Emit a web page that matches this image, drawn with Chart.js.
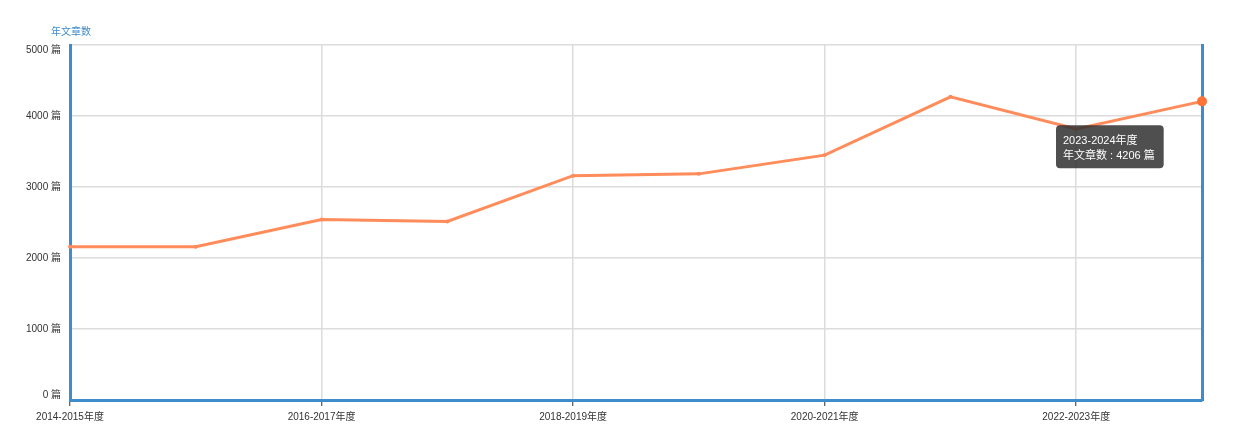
<!DOCTYPE html>
<html>
<head>
<meta charset="utf-8">
<script src="https://cdn.jsdelivr.net/npm/chart.js@4/dist/chart.umd.min.js"></script>
<style>
html,body{margin:0;padding:0;background:#fff;}
#wrap{width:1234px;height:444px;position:relative;}
</style>
</head>
<body>
<div id="wrap"><canvas id="c" width="1234" height="444"></canvas></div>
<script>
const categories = ['2014-2015年度','2015-2016年度','2016-2017年度','2017-2018年度','2018-2019年度','2019-2020年度','2020-2021年度','2021-2022年度','2022-2023年度','2023-2024年度'];
const articleCounts = [2160, 2160, 2542, 2514, 3160, 3185, 3449, 4270, 3816, 4206];
const seriesName = '年文章数';
const unit = '篇';

const FONT = '"Liberation Sans", Arial, "Noto Sans CJK SC", sans-serif';
const BLUE = '#3d8ccb';
const LINE = '#ff8c5a';
const lastIdx = articleCounts.length - 1;

Chart.Tooltip.positioners.fixedLeftBelow = function(elements) {
  if (!elements.length) return false;
  const el = elements[0].element;
  return {x: el.x - 142, y: el.y + 24};
};

const axisTitle = {
  id: 'axisTitle',
  afterDraw(chart) {
    const ctx = chart.ctx;
    ctx.save();
    ctx.font = '10px ' + FONT;
    ctx.fillStyle = BLUE;
    ctx.textAlign = 'left';
    ctx.textBaseline = 'middle';
    ctx.fillText(seriesName, 51, 32);
    ctx.restore();
  }
};

// keep the min / max y labels inside the plot (as in the reference)
const edgeLabels = {
  id: 'edgeLabels',
  beforeDraw(chart) {
    const s = chart.scales.y;
    if (!s || typeof s._computeLabelItems !== 'function') return;
    const items = s._computeLabelItems(chart.chartArea);
    if (!items || items.length < 2) return;
    const shift = (it, dy) => {
      if (it && it.options && Array.isArray(it.options.translation)) {
        it.options.translation = [it.options.translation[0], it.options.translation[1] + dy];
      }
    };
    shift(items[0], -5);
    shift(items[items.length - 1], 5);
    s._labelItems = items;
  }
};

const chart = new Chart(document.getElementById('c'), {
  type: 'line',
  data: {
    labels: categories,
    datasets: [{
      label: seriesName,
      data: articleCounts,
      borderColor: LINE,
      backgroundColor: LINE,
      borderWidth: 3,
      tension: 0,
      fill: false,
      pointRadius: (c) => c.dataIndex === lastIdx ? 5 : 2,
      pointHoverRadius: (c) => c.dataIndex === lastIdx ? 5 : 2,
      pointBorderWidth: 0,
      pointHoverBorderWidth: 0,
      pointBackgroundColor: LINE
    }]
  },
  options: {
    responsive: false,
    animation: false,
    events: [],
    layout: {padding: {top: 45, right: 32, bottom: 0, left: 0}},
    plugins: {
      legend: {display: false},
      tooltip: {
        enabled: true,
        position: 'fixedLeftBelow',
        xAlign: 'left',
        yAlign: 'top',
        caretSize: 0,
        caretPadding: 0,
        cornerRadius: 4,
        backgroundColor: 'rgba(50,50,50,0.86)',
        titleColor: '#fff',
        bodyColor: '#fff',
        titleFont: {family: FONT, size: 11, weight: 'normal'},
        bodyFont: {family: FONT, size: 11},
        titleMarginBottom: 1.5,
        padding: {top: 9, bottom: 6, left: 7, right: 9},
        displayColors: false,
        callbacks: {
          title: (items) => items[0].label,
          label: (item) => seriesName + ' : ' + item.raw + ' ' + unit
        }
      }
    },
    scales: {
      x: {
        type: 'category',
        offset: false,
        afterFit: (s) => { s.height = 44; },
        grid: {
          color: (c) => (c.index % 2 === 0) ? '#dcdcdc' : 'rgba(0,0,0,0)',
          lineWidth: 1.5,
          drawTicks: true,
          tickLength: 6,
          tickColor: (c) => (c.index % 2 === 0) ? '#333' : 'rgba(0,0,0,0)',
          tickWidth: 1
        },
        border: {display: true, color: BLUE, width: 3},
        ticks: {
          autoSkip: false,
          maxRotation: 0,
          padding: 5,
          color: '#333',
          font: {family: FONT, size: 10},
          callback: function(v, i) { return i % 2 === 0 ? this.getLabelForValue(v) : ''; }
        }
      },
      y: {
        position: 'left',
        min: 0,
        max: 5000,
        afterFit: (s) => { s.width = 70; },
        grid: {color: '#dcdcdc', lineWidth: 1.5, drawTicks: false},
        border: {display: true, color: BLUE, width: 3},
        ticks: {
          stepSize: 1000,
          padding: 9,
          color: '#333',
          font: {family: FONT, size: 10},
          callback: (v) => v + ' ' + unit
        }
      },
      y2: {
        position: 'right',
        min: 0,
        max: 5000,
        afterFit: (s) => { s.width = 0; },
        grid: {drawOnChartArea: false, drawTicks: false},
        border: {display: true, color: BLUE, width: 3},
        ticks: {display: false}
      }
    }
  },
  plugins: [axisTitle, edgeLabels]
});

chart.setActiveElements([{datasetIndex: 0, index: lastIdx}]);
chart.tooltip.setActiveElements([{datasetIndex: 0, index: lastIdx}], {x: 0, y: 0});
chart.update();
</script>
</body>
</html>
